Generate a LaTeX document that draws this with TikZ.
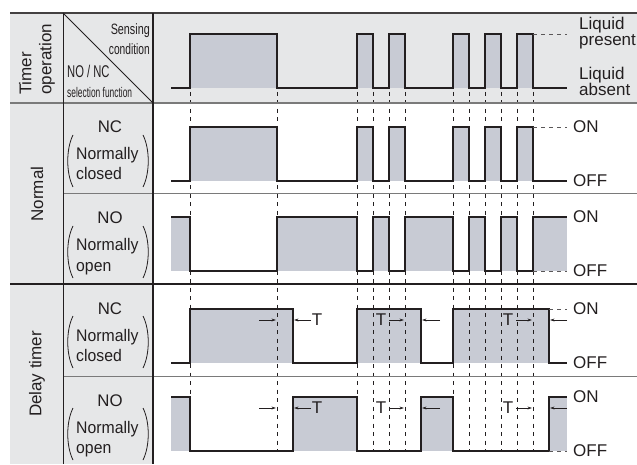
\documentclass[tikz,border=0pt]{standalone}
\usepackage{fontspec}
\setmainfont{Liberation Sans}
\usetikzlibrary{arrows.meta}
\definecolor{panel}{HTML}{E6E7E8}
\definecolor{pulse}{HTML}{C8CBD4}
\definecolor{ink}{HTML}{231F20}
\definecolor{rule}{HTML}{7A7A7A}
\begin{document}
\begin{tikzpicture}[x=1pt,y=-1pt,
  sig/.style={line width=1.6pt, draw=ink, line join=miter},
  guide/.style={draw=ink, line width=0.8pt, dash pattern=on 4pt off 4.5pt},
  lvl/.style={draw=ink!75, line width=0.9pt, dash pattern=on 4pt off 4pt},
  lbl/.style={font=\fontsize{17}{20}\selectfont, inner sep=0pt, text=ink},
  cell/.style={font=\fontsize{16.8}{20}\selectfont, inner sep=0pt, text=ink},
  small/.style={inner sep=0pt, text=ink},
  tarrow/.style={-{Stealth[length=4.5pt,width=2.8pt]}, line width=0.7pt, draw=ink},
  paren/.style={line width=0.8pt, draw=ink}
]
\useasboundingbox (0,0) rectangle (637,465);

% ---- backgrounds
\fill[panel] (10,13) rectangle (637,103);
\fill[panel] (10,13) rectangle (153,464);

% ---- shaded pulse areas
\foreach \a/\b in {190/277,357/373,389/405,453/469,485/501,517/533}{
  \fill[pulse] (\a,34) rectangle (\b,88);
  \fill[pulse] (\a,127) rectangle (\b,181);
}
\foreach \a/\b in {171/190,277/357,373/389,405/453,469/485,501/517,533/567}
  \fill[pulse] (\a,217) rectangle (\b,271);
\foreach \a/\b in {190/293,357/421,453/549}
  \fill[pulse] (\a,309) rectangle (\b,363);
\foreach \a/\b in {171/190,293/357,421/453,549/567}
  \fill[pulse] (\a,397) rectangle (\b,451);

% ---- timing guides
\foreach \x in {190,277,357,373,389,405,453,469,485,501,517,533}
  \draw[guide] (\x,92) -- (\x,451);

% ---- table rules
\draw[line width=1.8pt, draw=ink!85] (10,13) -- (637,13);
\draw[line width=1.6pt, draw=rule] (10,103) -- (637,103);
\draw[line width=1.2pt, draw=ink] (10,284) -- (637,284);
\draw[line width=1pt, draw=rule] (63,194) -- (637,194);
\draw[line width=1pt, draw=rule] (63,376) -- (637,376);
\draw[line width=0.9pt, draw=ink] (63,13) -- (63,464);
\draw[line width=1.8pt, draw=ink] (153,13) -- (153,464);
\draw[line width=0.8pt, draw=ink] (63,13) -- (153,103);

% ---- sensing condition
\draw[sig] (171,88) -| (190,34) -| (277,88) -| (357,34) -| (373,88) -| (389,34)
  -| (405,88) -| (453,34) -| (469,88) -| (485,34) -| (501,88) -| (517,34)
  -| (533,88) -- (567,88);
\draw[lvl] (533,34) -- (567,34);

% ---- normal, NC
\draw[sig] (171,181) -| (190,127) -| (277,181) -| (357,127) -| (373,181) -| (389,127)
  -| (405,181) -| (453,127) -| (469,181) -| (485,127) -| (501,181) -| (517,127)
  -| (533,181) -- (567,181);
\draw[lvl] (533,127) -- (567,127);

% ---- normal, NO
\draw[sig] (171,217) -| (190,271) -| (277,217) -| (357,271) -| (373,217) -| (389,271)
  -| (405,217) -| (453,271) -| (469,217) -| (485,271) -| (501,217) -| (517,271)
  -| (533,217) -- (567,217);
\draw[lvl] (533,271) -- (567,271);

% ---- delay timer, NC
\draw[sig] (171,363) -| (190,309) -| (293,363) -| (357,309) -| (421,363) -| (453,309)
  -| (549,363) -- (567,363);
\draw[lvl] (549,309) -- (567,309);

% ---- delay timer, NO
\draw[sig] (171,397) -| (190,451) -| (293,397) -| (357,451) -| (421,397) -| (453,451)
  -| (549,397) -- (567,397);
\draw[lvl] (549,451) -- (567,451);

% ---- delay markers
\foreach \y/\r in {320/c,408/o}{
  \draw[tarrow] (259,\y) -- (276,\y);
  \draw[tarrow] (311,\y) -- (294,\y);
  \node[lbl] (t1\r) at (317,\y) {T};
  \node[lbl] (t2\r) at (381,\y) {T};
  \draw[tarrow] (t2\r.east) ++(3,0) -- (404,\y);
  \draw[tarrow] (440,\y) -- (422,\y);
  \node[lbl] (t3\r) at (508,\y) {T};
  \draw[tarrow] (t3\r.east) ++(3,0) -- (532,\y);
  \draw[tarrow] (567,\y) -- (550,\y);
}

% ---- level labels
\node[lbl, anchor=base west] (lq1) at (579,30) {Liquid};
\node[lbl, anchor=base west] (lq2) at (579,45.5) {present};
\node[lbl, anchor=base west] (lq3) at (579,80) {Liquid};
\node[lbl, anchor=base west] (lq4) at (579,95.5) {absent};
\foreach \n/\hi/\lo in {a/127/181, b/217/271, c/309/363, d/397/451}{
  \node[lbl, anchor=west] (on\n) at (573,\hi) {ON};
  \node[lbl, anchor=west] (off\n) at (573,\lo) {OFF};
}

% ---- header cell
\node[lbl, rotate=90, anchor=west, align=left] (timer) at (37,95) {Timer\\operation};
\node[small, anchor=base east] (sens1) at (150,35)
  {\fontsize{15}{15}\selectfont\scalebox{0.72}[1]{Sensing}};
\node[small, anchor=base east] (sens2) at (150,55)
  {\fontsize{15}{15}\selectfont\scalebox{0.68}[1]{condition}};
\node[small, anchor=base west] (nonc) at (67,78)
  {\fontsize{17}{17}\selectfont\scalebox{0.66}[1]{NO / NC}};
\node[small, anchor=base west] (selfn) at (67,98)
  {\fontsize{14}{14}\selectfont\scalebox{0.6}[1]{selection function}};

% ---- group labels
\node[lbl, rotate=90] (normal) at (37,194) {Normal};
\node[lbl, rotate=90] (delay) at (37,374) {Delay timer};

% ---- contact-type cells
\foreach \top/\k/\w/\n in {103/NC/closed/p, 194/NO/open/q, 284/NC/closed/r, 376/NO/open/s}{
  \node[cell, anchor=base] (k\n) at (110,\top+30) {\k};
  \node[cell, anchor=base west] (m\n) at (76,\top+57) {\scalebox{0.94}[1]{Normally}};
  \node[cell, anchor=base west] (w\n) at (76,\top+77) {\scalebox{0.94}[1]{\w}};
  \draw[paren] (73,\top+32) .. controls (66,\top+46) and (66,\top+70) .. (73,\top+84);
  \draw[paren] (143,\top+32) .. controls (150,\top+46) and (150,\top+70) .. (143,\top+84);
}
\end{tikzpicture}
\end{document}
